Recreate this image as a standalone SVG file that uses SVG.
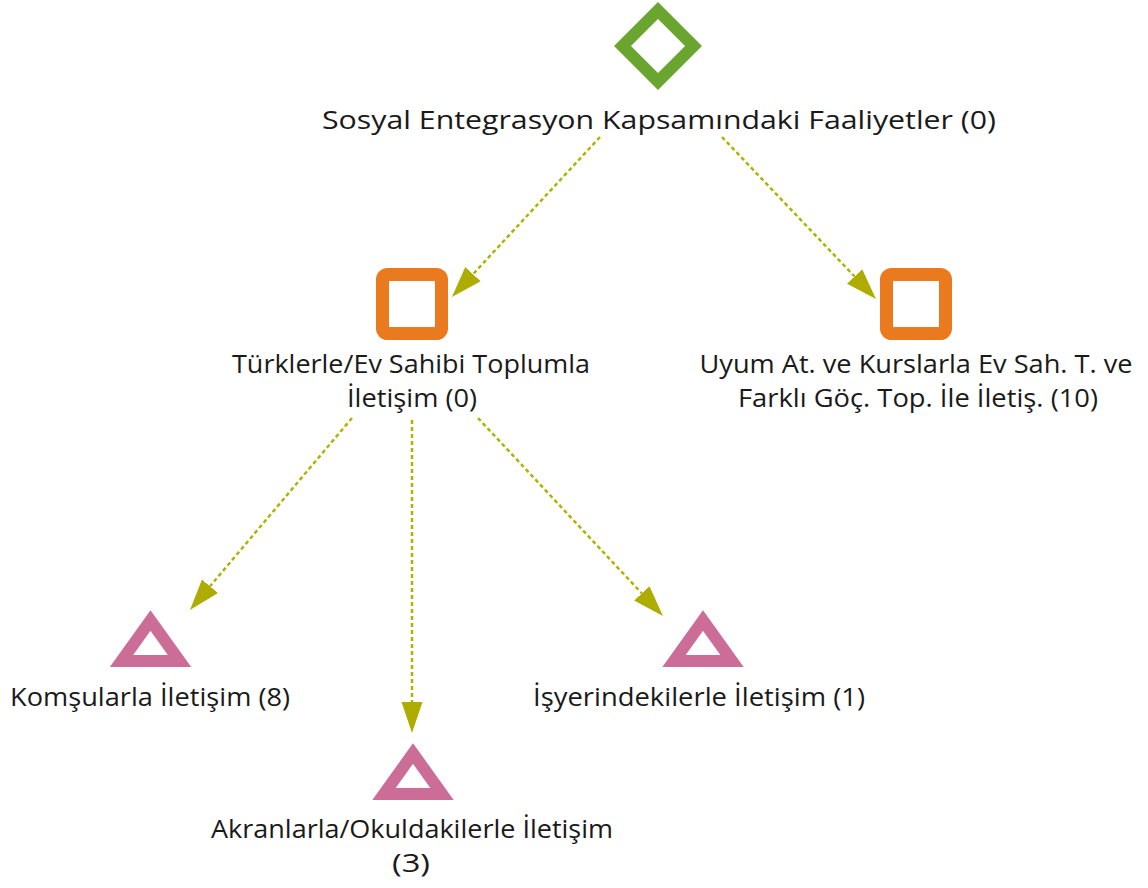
<svg xmlns="http://www.w3.org/2000/svg" width="1148" height="888" viewBox="0 0 1148 888">
<defs>
<style>
text{font-family:"Open Sans","Noto Sans","DejaVu Sans",sans-serif;font-size:26px;fill:#1a1a1a;text-anchor:middle}
.edge{fill:none;stroke:#b3b100;stroke-width:2.5;stroke-dasharray:4 3}
.dia{fill:none;stroke:#6aa530;stroke-width:12;stroke-linejoin:miter}
.sq{fill:none;stroke:#ea7a1e;stroke-width:13}
.tri{fill:none;stroke:#cc6d98;stroke-width:12;stroke-linejoin:miter;stroke-miterlimit:10}
</style>
<marker id="ah" viewBox="0 -11 32 22" refX="0" refY="0" markerWidth="32" markerHeight="22" markerUnits="userSpaceOnUse" orient="auto">
<path d="M0,-10.5 L31,0 L0,10.5 z" fill="#aeac00"/>
</marker>
</defs>
<rect width="1148" height="888" fill="#ffffff"/>
<g id="connectors">
<line class="edge" x1="600" y1="137" x2="473" y2="274.2" marker-end="url(#ah)"/>
<line class="edge" x1="722" y1="137" x2="854.6" y2="276.5" marker-end="url(#ah)"/>
<line class="edge" x1="352" y1="418" x2="210" y2="586.3" marker-end="url(#ah)"/>
<line class="edge" x1="412" y1="420" x2="412" y2="702" marker-end="url(#ah)"/>
<line class="edge" x1="478" y1="418" x2="641.8" y2="593.4" marker-end="url(#ah)"/>
</g>
<g id="n-root">
<path class="dia" d="M658,10.5 L693.5,46 L658,81.5 L622.5,46 z"/>
<text x="659" y="129" textLength="674" lengthAdjust="spacingAndGlyphs">Sosyal Entegrasyon Kapsamındaki Faaliyetler (0)</text>
</g>
<g id="n-turklerle">
<rect class="sq" x="382.5" y="274.5" width="59" height="59" rx="5"/>
<text x="411" y="373" textLength="358" lengthAdjust="spacingAndGlyphs">Türklerle/Ev Sahibi Toplumla</text>
<text x="412" y="407" textLength="130" lengthAdjust="spacingAndGlyphs">İletişim (0)</text>
</g>
<g id="n-uyum">
<rect class="sq" x="886.5" y="274.5" width="59" height="59" rx="5"/>
<text x="916" y="373" textLength="433" lengthAdjust="spacingAndGlyphs">Uyum At. ve Kurslarla Ev Sah. T. ve</text>
<text x="918" y="407" textLength="360" lengthAdjust="spacingAndGlyphs">Farklı Göç. Top. İle İletiş. (10)</text>
</g>
<g id="n-komsu">
<path class="tri" d="M150.5,620.5 L179.5,661 L121.5,661 z"/>
<text x="150" y="706" textLength="280" lengthAdjust="spacingAndGlyphs">Komşularla İletişim (8)</text>
</g>
<g id="n-akran">
<path class="tri" d="M413,753.5 L442,794 L384,794 z"/>
<text x="412" y="838" textLength="402" lengthAdjust="spacingAndGlyphs">Akranlarla/Okuldakilerle İletişim</text>
<text x="411" y="872" textLength="38" lengthAdjust="spacingAndGlyphs">(3)</text>
</g>
<g id="n-isyeri">
<path class="tri" d="M703,620.5 L732,661 L674,661 z"/>
<text x="699" y="706" textLength="332" lengthAdjust="spacingAndGlyphs">İşyerindekilerle İletişim (1)</text>
</g>
</svg>
